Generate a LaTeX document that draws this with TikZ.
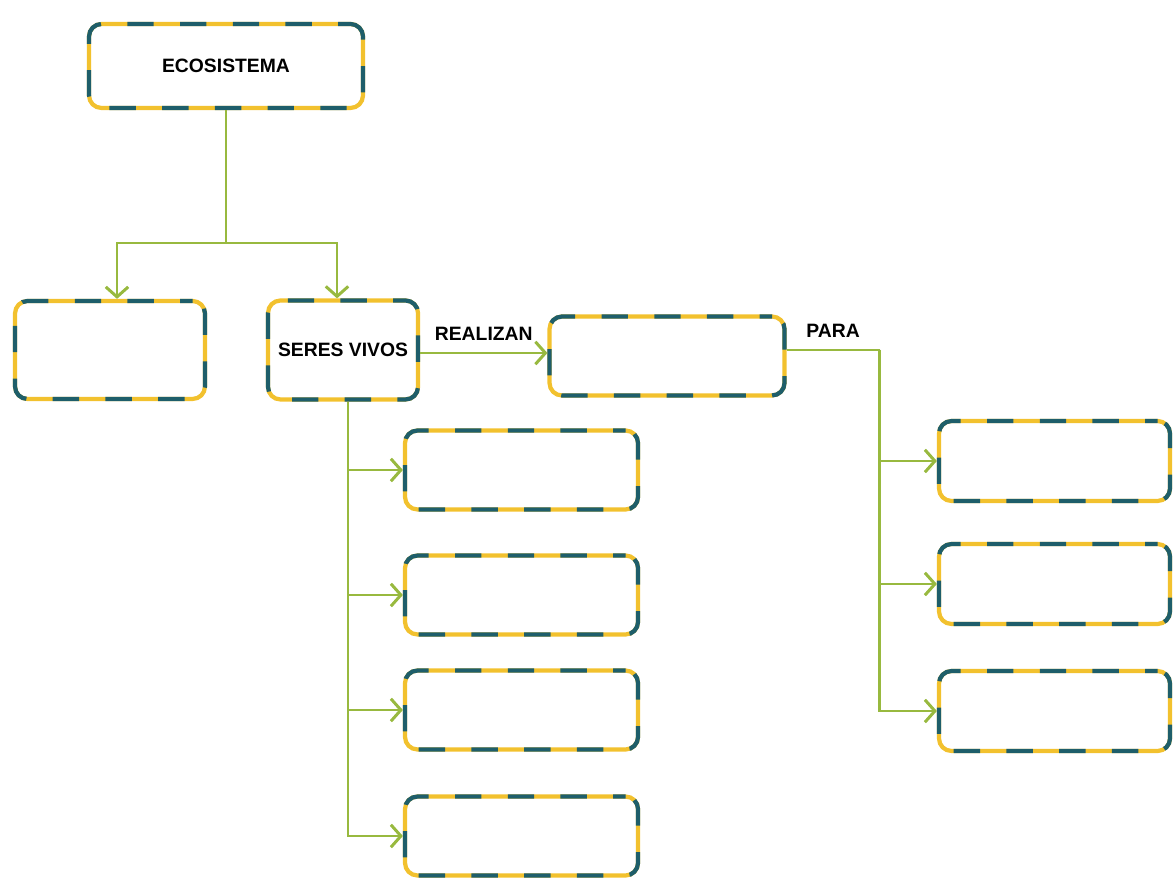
\documentclass[tikz,border=0pt]{standalone}
\usepackage{fontspec}
\setmainfont{Liberation Sans}
\usetikzlibrary{positioning,arrows.meta}
\definecolor{boxgold}{HTML}{F2C12E}
\definecolor{boxteal}{HTML}{1E5E6A}
\definecolor{linkgreen}{HTML}{98B93F}
\tikzstyle{box}=[draw=boxgold, line width=2.4pt, rounded corners=0.25cm, inner sep=0pt, fill=white, font=\bfseries\fontsize{11}{13}\selectfont, postaction={draw=boxteal, line width=2.4pt, dash pattern=on 15pt off 15pt, dash phase=8pt}]
\tikzstyle{colbox}=[box, minimum width=4.66cm, minimum height=1.58cm]
\tikzstyle{link}=[draw=linkgreen, line width=1.7pt]
\tikzstyle{word}=[font=\bfseries\fontsize{11}{13}\selectfont]

\begin{document}
\begin{tikzpicture}[node distance=2cm,auto,>={Straight Barb[length=0.2cm,width=0.45cm]}]
\useasboundingbox (0,0) rectangle (23.5,-17.68);

\node[box, minimum width=5.48cm, minimum height=1.68cm] at (4.52,-1.32) (eco) {ECOSISTEMA};

\node[box, minimum width=3.8cm, minimum height=1.96cm] at (2.2,-7.0) (lft) {};
\node[box, minimum width=3.0cm, minimum height=1.98cm] at (6.86,-7.0) (seres) {SERES VIVOS};
\coordinate (split) at (eco.south |- 0,-4.86);
\draw[link] (eco.south) -- (split);
\draw[link,->] (split) -| ([xshift=0.14cm]lft.north);
\draw[link,->] (split) -| ([xshift=-0.12cm]seres.north);

% what living beings do
\node[box, minimum width=4.7cm, minimum height=1.58cm] at (13.34,-7.12) (act) {};
\draw[link,->] ([yshift=-0.06cm]seres.east) -- node[word, above, yshift=3pt] (realizan) {REALIZAN} ([yshift=-0.06cm]seres.east -| act.west);

\foreach \y [count=\i] in {-9.4,-11.9,-14.2,-16.72}
  \node[colbox] at (10.43,\y) (col\i) {};
\foreach \i in {1,...,4}
  \draw[link,->] ([xshift=0.1cm]seres.south) |- (col\i.west);

\draw[link] ([yshift=0.12cm]act.east) -- node[word, above, yshift=3pt] (para) {PARA} ++(1.86,0) coordinate (parafork);
\foreach \y [count=\i] in {-9.22,-11.68,-14.22}
  \node[colbox, minimum width=4.62cm, minimum height=1.6cm] at (21.09,\y) (rgt\i) {};
\foreach \i in {1,2,3}
  \draw[link,->] (parafork) |- (rgt\i.west);
\end{tikzpicture}
\end{document}
